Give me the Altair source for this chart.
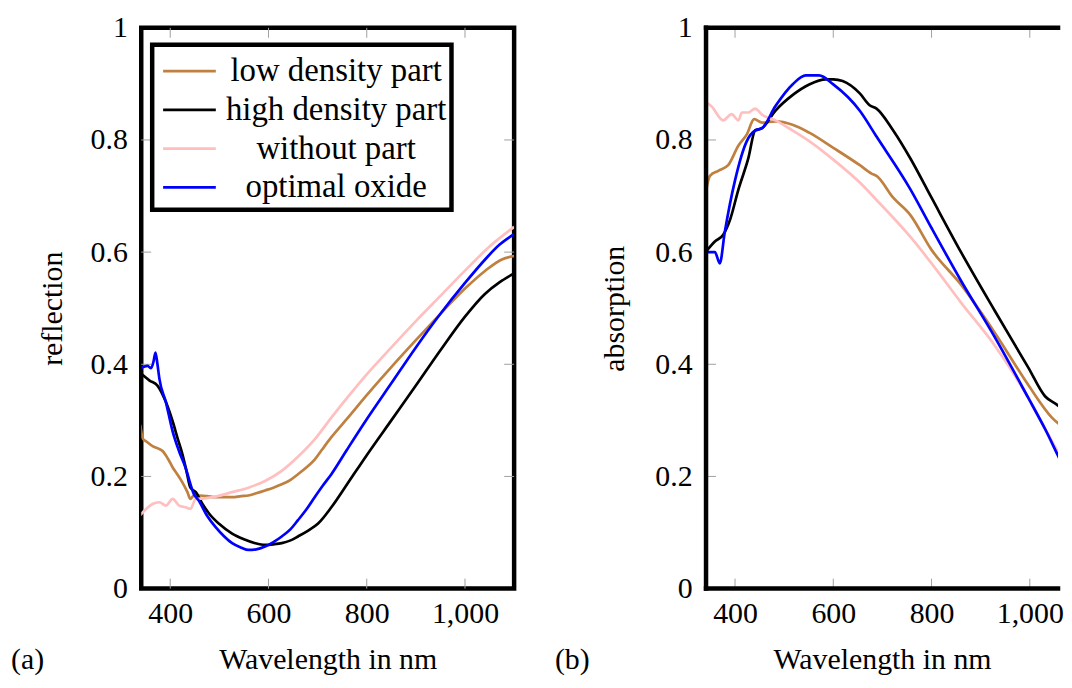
import altair as alt
import pandas as pd

SERIES = ["low density part", "high density part", "without part", "optimal oxide"]
COLORS = ["#BF8040", "#000000", "#FFBFBF", "#0000FF"]

X_TICKS = [400, 600, 800, 1000]
Y_TICKS = [0, 0.2, 0.4, 0.6, 0.8, 1]
Y_INNER = [0.2, 0.4, 0.6, 0.8]

# ---------- (a) reflection ----------
ref_low_nm = [339, 344, 352, 364, 375, 385, 395, 405, 415, 425, 435, 441, 448, 460, 475, 492, 510, 526, 545, 559,
              575, 593, 610, 627, 645, 660, 677, 694, 710, 728, 760, 800, 850, 900, 950, 1000, 1040, 1075, 1100]
ref_low = [0.292, 0.268, 0.262, 0.254, 0.250, 0.245, 0.232, 0.216, 0.203, 0.189, 0.172, 0.160, 0.166, 0.166, 0.165,
           0.163, 0.163, 0.163, 0.165, 0.166, 0.170, 0.175, 0.180, 0.186, 0.194, 0.204, 0.216, 0.230, 0.249, 0.270,
           0.303, 0.345, 0.395, 0.443, 0.490, 0.535, 0.566, 0.587, 0.593]

ref_high_nm = [341, 358, 374, 391, 405, 415, 425, 433, 441, 452, 465, 479, 500, 526, 550, 573, 593, 610, 627, 645,
               660, 680, 701, 728, 760, 800, 850, 900, 950, 1000, 1040, 1070, 1100]
ref_high = [0.383, 0.371, 0.362, 0.333, 0.298, 0.268, 0.239, 0.210, 0.180, 0.172, 0.152, 0.134, 0.115, 0.098, 0.088,
            0.081, 0.078, 0.079, 0.081, 0.086, 0.093, 0.103, 0.116, 0.145, 0.186, 0.238, 0.300, 0.362, 0.425, 0.485,
            0.525, 0.546, 0.562]

ref_without_nm = [339, 351, 364, 378, 391, 405, 418, 431, 441, 452, 470, 492, 526, 559, 593, 627, 660, 694, 728,
                  760, 800, 850, 900, 950, 1000, 1050, 1100]
ref_without = [0.131, 0.142, 0.151, 0.154, 0.148, 0.160, 0.148, 0.145, 0.142, 0.160, 0.161, 0.164, 0.172, 0.180,
               0.192, 0.210, 0.235, 0.266, 0.305, 0.340, 0.382, 0.430, 0.477, 0.522, 0.567, 0.610, 0.645]

ref_optimal_nm = [341, 354, 361, 366, 370, 374, 378, 391, 405, 418, 431, 448, 458, 475, 492, 510, 526, 545, 559,
                  575, 593, 610, 627, 645, 660, 677, 694, 710, 728, 760, 800, 850, 900, 950, 1000, 1040, 1070, 1100]
ref_optimal = [0.394, 0.397, 0.393, 0.405, 0.421, 0.400, 0.374, 0.333, 0.280, 0.245, 0.216, 0.169, 0.157, 0.130,
               0.110, 0.093, 0.081, 0.073, 0.069, 0.070, 0.075, 0.083, 0.093, 0.106, 0.122, 0.141, 0.163, 0.183,
               0.204, 0.248, 0.302, 0.366, 0.430, 0.490, 0.545, 0.586, 0.613, 0.632]

# ---------- (b) absorption ----------
abs_low_nm = [340, 349, 366, 386, 407, 424, 439, 455, 482, 517, 551, 600, 654, 678, 688, 722, 757, 800, 860, 929,
              997, 1045, 1078, 1100]
abs_low = [0.705, 0.736, 0.745, 0.755, 0.790, 0.810, 0.837, 0.831, 0.833, 0.827, 0.813, 0.786, 0.755, 0.740, 0.736,
           0.697, 0.666, 0.604, 0.542, 0.456, 0.363, 0.305, 0.281, 0.265]

abs_high_nm = [340, 359, 376, 390, 407, 427, 441, 455, 482, 517, 551, 585, 600, 619, 654, 674, 688, 722, 757, 800,
               860, 929, 997, 1031, 1055, 1078, 1100]
abs_high = [0.600, 0.619, 0.631, 0.658, 0.712, 0.767, 0.817, 0.821, 0.852, 0.880, 0.899, 0.908, 0.908, 0.905, 0.883,
            0.862, 0.856, 0.817, 0.767, 0.697, 0.600, 0.495, 0.394, 0.343, 0.328, 0.312, 0.300]

abs_without_nm = [340, 352, 376, 393, 407, 414, 427, 441, 455, 482, 517, 551, 600, 654, 688, 757, 800, 860, 929,
                  997, 1031, 1078, 1100]
abs_without = [0.868, 0.860, 0.835, 0.846, 0.835, 0.849, 0.849, 0.856, 0.845, 0.835, 0.817, 0.798, 0.765, 0.724,
               0.693, 0.627, 0.580, 0.510, 0.433, 0.340, 0.285, 0.215, 0.190]

abs_optimal_nm = [340, 359, 369, 379, 400, 424, 441, 455, 482, 517, 544, 571, 600, 654, 688, 757, 800, 860, 929,
                  997, 1031, 1078, 1100]
abs_optimal = [0.600, 0.600, 0.580, 0.635, 0.728, 0.798, 0.817, 0.821, 0.860, 0.899, 0.915, 0.915, 0.899, 0.852,
               0.806, 0.712, 0.643, 0.549, 0.448, 0.340, 0.285, 0.204, 0.180]

FONT = "Liberation Serif, serif"
H = 564
W_A = 375                      # full panel (a)
W_B = 354                      # panel (b) is cut off at the right page edge
PX_PER_NM = W_A / (1100 - 341)
DOM_A = [341, 1100]
DOM_B = [341, 341 + W_B / PX_PER_NM]


def frame(nms, vals):
    rows = []
    for s, (xs, ys) in enumerate(zip(nms, vals)):
        for x, y in zip(xs, ys):
            rows.append({"nm": x, "value": y, "series": SERIES[s]})
    return pd.DataFrame(rows)


def panel(df, W, dom, ytitle, tag, tag_x, ttl_pad, legend, cut):
    xs = alt.Scale(domain=dom, nice=False, zero=False)
    ys = alt.Scale(domain=[0, 1], nice=False)
    xax = alt.Axis(values=X_TICKS, format=",.0f", title="Wavelength in nm",
                   labelPadding=10, titlePadding=16, labelFlush=False)
    yax = alt.Axis(values=Y_TICKS, format=".1~f", title=ytitle,
                   labelPadding=14, titlePadding=ttl_pad, labelFlush=False)
    layers = []
    for i, s in enumerate(SERIES):
        enc = dict(
            x=alt.X("nm:Q", scale=xs, axis=xax, title="Wavelength in nm"),
            y=alt.Y("value:Q", scale=ys, axis=yax, title=ytitle),
            color=alt.Color("series:N", scale=alt.Scale(domain=SERIES, range=COLORS),
                            legend=legend if i == 0 else None),
        )
        layers.append(
            alt.Chart(df).transform_filter(alt.datum.series == s)
            .mark_line(strokeWidth=2.7, clip=True, interpolate="monotone").encode(**enc)
        )
    xt = pd.DataFrame({"t": X_TICKS})
    yt = pd.DataFrame({"t": Y_INNER})
    tick_style = dict(color="#a0a0a0", strokeWidth=1)
    xenc = alt.X("t:Q", scale=xs, axis=xax, title="Wavelength in nm")
    yenc = alt.Y("t:Q", scale=ys, axis=yax, title=ytitle)
    ticks = [
        alt.Chart(xt).mark_rule(**tick_style).encode(x=xenc, y=alt.value(H), y2=alt.value(H - 10)),
        alt.Chart(xt).mark_rule(**tick_style).encode(x=xenc, y=alt.value(0), y2=alt.value(10)),
        alt.Chart(yt).mark_rule(**tick_style).encode(y=yenc, x=alt.value(0), x2=alt.value(10)),
    ]
    if not cut:
        ticks.append(alt.Chart(yt).mark_rule(**tick_style).encode(
            y=yenc, x=alt.value(W), x2=alt.value(W - 10)))
    extra = []
    if cut:
        one = pd.DataFrame({"k": [0]})
        fr = dict(color="black", strokeWidth=4.5, strokeCap="square")
        extra = [
            alt.Chart(one).mark_rule(**fr).encode(x=alt.value(0), x2=alt.value(W), y=alt.value(0)),
            alt.Chart(one).mark_rule(**fr).encode(x=alt.value(0), x2=alt.value(W), y=alt.value(H)),
            alt.Chart(one).mark_rule(**fr).encode(x=alt.value(0), y=alt.value(0), y2=alt.value(H)),
        ]
    lab = alt.Chart(pd.DataFrame({"t": [tag]})).mark_text(
        align="left", baseline="middle", font=FONT, fontSize=30, color="black"
    ).encode(x=alt.value(tag_x), y=alt.value(H + 72), text="t:N")
    ch = alt.layer(*ticks, *layers, *extra, lab).properties(width=W, height=H)
    if cut:
        ch = ch.properties(view=alt.ViewBackground(strokeWidth=0))
    return ch


legend = alt.Legend(
    orient="none", legendX=11, legendY=17, title=None,
    symbolType="M-1.315,0H1.315", symbolSize=1624, symbolStrokeWidth=2.7, symbolOffset=11,
    labelFont=FONT, labelFontSize=33, labelColor="black", labelLimit=500,
    labelAlign="center", labelOffset=126,
    padding=5, rowPadding=0, strokeColor="black", fillColor="white",
)

df_a = frame([ref_low_nm, ref_high_nm, ref_without_nm, ref_optimal_nm],
             [ref_low, ref_high, ref_without, ref_optimal])
df_b = frame([abs_low_nm, abs_high_nm, abs_without_nm, abs_optimal_nm],
             [abs_low, abs_high, abs_without, abs_optimal])

pa = panel(df_a, W_A, DOM_A, "reflection", "(a)", -131, 23, legend, False)
pb = panel(df_b, W_B, DOM_B, "absorption", "(b)", -152, 26, None, True)

chart = (
    alt.hconcat(pa, pb, spacing=38)
    .resolve_scale(color="independent")
    .properties(padding=0)
    .configure_view(stroke="black", strokeWidth=4.5)
    .configure_axis(domain=False, ticks=False, grid=False,
                    labelFont=FONT, labelFontSize=30, labelColor="black",
                    titleFont=FONT, titleFontSize=30, titleFontWeight="normal", titleColor="black")
    .configure_legend(strokeWidth=4.5)
)

chart.save("out.html", embed_options={"renderer": "svg", "actions": False})
